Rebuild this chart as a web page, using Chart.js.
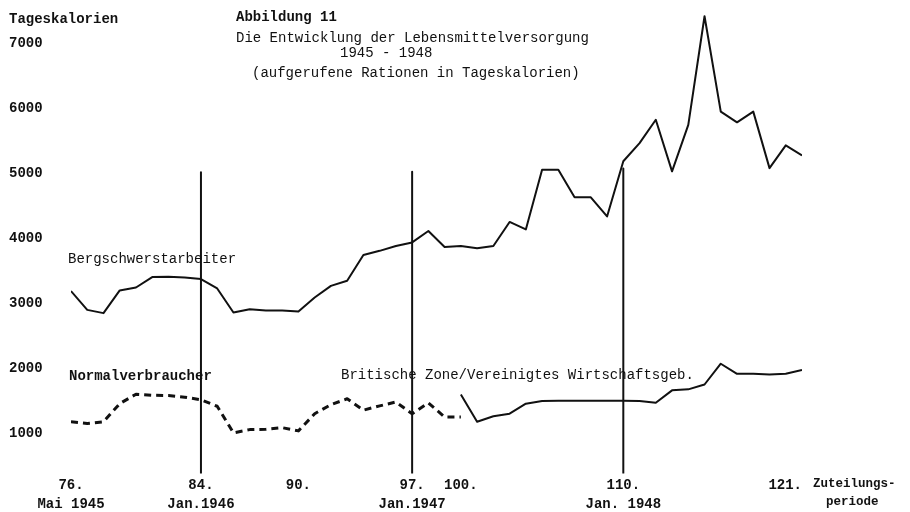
<!DOCTYPE html>
<html>
<head>
<meta charset="utf-8">
<script src="https://cdn.jsdelivr.net/npm/chart.js@4/dist/chart.umd.min.js"></script>
<style>
  html, body { margin: 0; padding: 0; background: #fff; }
  #wrap { width: 910px; height: 512px; }
</style>
</head>
<body>
<div id="wrap"><canvas id="chart" width="910" height="512"></canvas></div>
<script>
// Zuteilungsperioden 76 .. 121
var periods = [76, 77, 78, 79, 80, 81, 82, 83, 84, 85, 86, 87, 88, 89, 90, 91, 92, 93, 94, 95, 96, 97, 98,
  99, 100, 101, 102, 103, 104, 105, 106, 107, 108, 109, 110, 111, 112, 113, 114, 115, 116, 117, 118, 119, 120, 121];

// Bergschwerstarbeiter, 76 .. 121
var bergschwer = [3190, 2900, 2850, 3200, 3245, 3405, 3410, 3400, 3375, 3230, 2860, 2910, 2890, 2890, 2875,
  3090, 3270, 3350, 3745, 3810, 3885, 3940, 4115, 3870, 3885, 3850, 3885, 4255, 4140, 5060, 5060, 4635,
  4635, 4340, 5190, 5470, 5830, 5035, 5750, 7425, 5955, 5790, 5955, 5085, 5435, 5280];

// Normalverbraucher (Britische Zone), 76 .. 100
var normalPeriods = [76, 77, 78, 79, 80, 81, 82, 83, 84, 85, 86, 87, 88, 89, 90, 91, 92, 93, 94, 95, 96, 97, 98, 99, 100];
var normal = [1175, 1150, 1175, 1455, 1600, 1585, 1580, 1555, 1515, 1415, 1005, 1055, 1060, 1085, 1035,
  1300, 1440, 1530, 1355, 1420, 1480, 1300, 1465, 1250, 1250];

// Normalverbraucher (Vereinigtes Wirtschaftsgebiet), 100 .. 121
var bizonePeriods = [100, 101, 102, 103, 104, 105, 106, 107, 108, 109, 110, 111, 112, 113, 114, 115, 116, 117, 118, 119, 120, 121];
var bizone = [1595, 1175, 1260, 1300, 1455, 1495, 1500, 1500, 1500, 1500, 1500, 1495, 1470, 1660, 1675,
  1750, 2070, 1915, 1915, 1905, 1915, 1975];

// Jahreswechsel-Markierungen
var markPeriods = [84, 97, 110];
var markTops = [5020, 5030, 5080];

var yTicks = [1000, 2000, 3000, 4000, 5000, 6000, 7000];
var xTicks = [76, 84, 90, 97, 100, 110, 121];
var xTickLabels = ["76.", "84.", "90.", "97.", "100.", "110.", "121.    "];
var xTickDates = ["Mai 1945", "Jan.1946", "", "Jan.1947", "", "Jan. 1948", ""];

var Y_MIN = 380, Y_MAX = 7500;
var FONT = "'Liberation Mono', 'DejaVu Sans Mono', monospace";
var INK = "#111";

function pairs(xs, ys) {
  return xs.map(function (x, i) { return { x: x, y: ys[i] }; });
}

var datasets = [
  { data: pairs(periods, bergschwer), borderColor: INK, borderWidth: 2 },
  { data: pairs(normalPeriods, normal), borderColor: INK, borderWidth: 3, borderDash: [7, 5] },
  { data: pairs(bizonePeriods, bizone), borderColor: INK, borderWidth: 2 }
];
markPeriods.forEach(function (p, i) {
  datasets.push({ data: [{ x: p, y: markTops[i] }, { x: p, y: Y_MIN }], borderColor: INK, borderWidth: 2 });
});
datasets.forEach(function (d) {
  d.pointRadius = 0;
  d.fill = false;
  d.tension = 0;
  d.borderJoinStyle = "round";
});

// freie Beschriftungen (typewriter style)
var notes = [
  { t: "Tageskalorien", x: 9, y: 19, bold: true, size: 14 },
  { t: "Abbildung 11", x: 236, y: 17, bold: true, size: 14 },
  { t: "Die Entwicklung der Lebensmittelversorgung", x: 236, y: 38, size: 14 },
  { t: "1945 - 1948", x: 340, y: 53, size: 14 },
  { t: "(aufgerufene Rationen in Tageskalorien)", x: 252, y: 73, size: 14 },
  { t: "Bergschwerstarbeiter", x: 68, y: 259, size: 14 },
  { t: "Normalverbraucher", x: 69, y: 376, bold: true, size: 14 },
  { t: "Britische Zone/Vereinigtes Wirtschaftsgeb.", x: 341, y: 375, size: 14 },
  { t: "Zuteilungs-", x: 813, y: 484, bold: true, size: 12.5 },
  { t: "periode", x: 826, y: 502, bold: true, size: 12.5 }
];

var notesPlugin = {
  id: "notes",
  afterDraw: function (chart) {
    var ctx = chart.ctx;
    ctx.save();
    ctx.fillStyle = INK;
    ctx.textAlign = "left";
    ctx.textBaseline = "middle";
    notes.forEach(function (n) {
      ctx.font = (n.bold ? "bold " : "") + n.size + "px " + FONT;
      ctx.fillText(n.t, n.x, n.y);
    });
    ctx.restore();
  }
};

new Chart(document.getElementById("chart"), {
  type: "line",
  data: { datasets: datasets },
  plugins: [notesPlugin],
  options: {
    responsive: false,
    animation: false,
    layout: { padding: { left: 9, right: 108, top: 9, bottom: 0 } },
    plugins: { legend: { display: false }, tooltip: { enabled: false }, title: { display: false } },
    scales: {
      x: {
        type: "linear",
        min: 76,
        max: 121,
        grid: { display: false, drawTicks: false },
        border: { display: false },
        afterBuildTicks: function (scale) {
          scale.ticks = xTicks.map(function (v) { return { value: v }; });
        },
        afterFit: function (scale) { scale.height = 38.6; },
        ticks: {
          autoSkip: false,
          maxRotation: 0,
          padding: 3,
          color: INK,
          font: { family: FONT, size: 14, weight: "bold", lineHeight: 1.32 },
          callback: function (v) {
            var i = xTicks.indexOf(v);
            if (i < 0) return "";
            return xTickDates[i] ? [xTickLabels[i], xTickDates[i]] : xTickLabels[i];
          }
        }
      },
      y: {
        min: Y_MIN,
        max: Y_MAX,
        grid: { display: false, drawTicks: false },
        border: { display: false },
        afterBuildTicks: function (scale) {
          scale.ticks = yTicks.map(function (v) { return { value: v }; });
        },
        afterFit: function (scale) { scale.width = 62; },
        ticks: {
          crossAlign: "far",
          color: INK,
          font: { family: FONT, size: 14, weight: "bold" },
          callback: function (v) { return String(v); }
        }
      }
    }
  }
});
</script>
</body>
</html>
